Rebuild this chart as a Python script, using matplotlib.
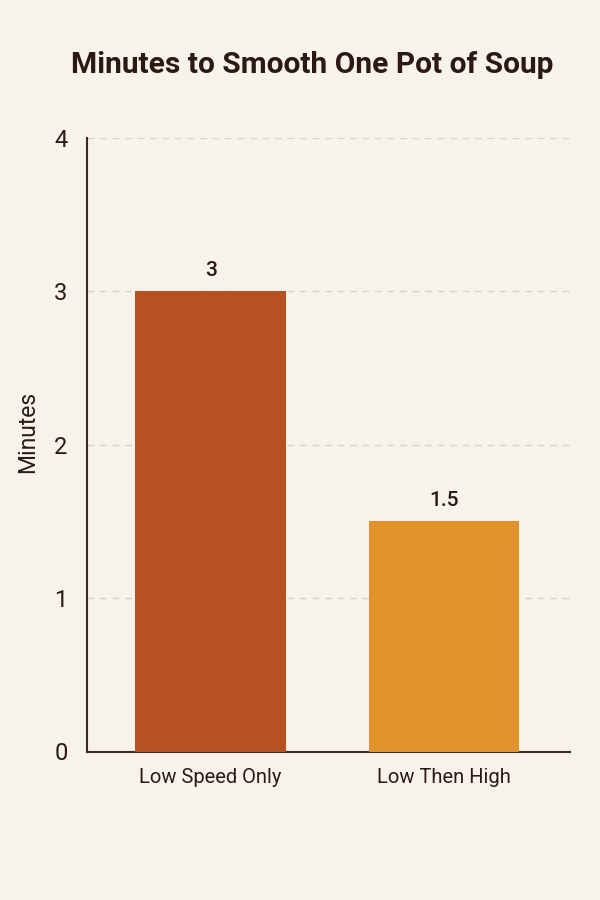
import matplotlib
matplotlib.use("Agg")
import matplotlib.pyplot as plt
import numpy as np

categories = ["Low Speed Only", "Low Then High"]
minutes = [3, 1.5]
value_labels = ["3", "1.5"]
bar_colors = ["#B55123", "#E0922B"]

bg = "#F8F3EA"
ink = "#2A1A12"

plt.rcParams["font.family"] = ["Roboto", "DejaVu Sans"]

fig = plt.figure(figsize=(6, 9), dpi=100, facecolor=bg)
ax = fig.add_axes([0.145, 0.165, 0.805, 0.682])
ax.set_facecolor(bg)

x = np.arange(len(categories))
ax.bar(x, minutes, width=0.647, color=bar_colors, zorder=3)

for xi, v, lab in zip(x, minutes, value_labels):
    ax.annotate(lab, (xi, v), xytext=(0, 8), textcoords="offset points",
                ha="center", va="bottom", fontsize=15, fontweight="medium", color=ink)

ax.set_xlim(-0.53, 1.54)
ax.set_ylim(0, 4)
ax.set_yticks([0, 1, 2, 3, 4])
ax.set_xticks(x, categories)
ax.tick_params(axis="y", length=0, labelsize=17, labelcolor=ink, pad=14)
ax.tick_params(axis="x", length=0, labelsize=14.5, labelcolor=ink, pad=12)
ax.grid(axis="y", color="#D8D3CB", linestyle=(0, (5, 4)), linewidth=1, zorder=0)

for s in ["top", "right"]:
    ax.spines[s].set_visible(False)
for s in ["left", "bottom"]:
    ax.spines[s].set_color("#3A2A22")
    ax.spines[s].set_linewidth(1.5)

ax.set_ylabel("Minutes", fontsize=16.5, color=ink, labelpad=7)
ax.yaxis.set_label_coords(-0.1, 0.52)
fig.text(0.52, 0.928, "Minutes to Smooth One Pot of Soup", ha="center", va="center",
         fontsize=21.5, fontweight="bold", color=ink)

fig.savefig("out.png", dpi=100, facecolor=bg)
